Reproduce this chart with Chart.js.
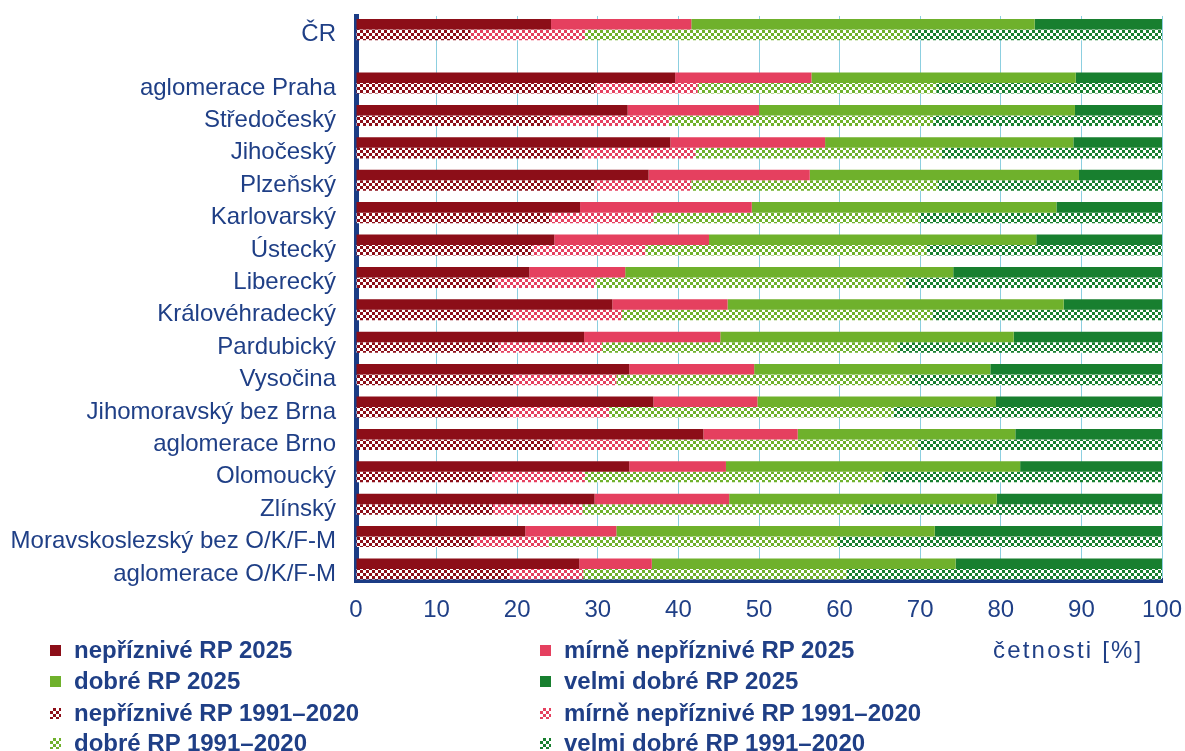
<!DOCTYPE html>
<html lang="cs">
<head>
<meta charset="utf-8">
<script src="https://cdn.jsdelivr.net/npm/chart.js@4/dist/chart.umd.min.js"></script>
<style>
  html, body { margin: 0; padding: 0; background: #fff; }
  #wrap { position: relative; width: 1185px; height: 751px; overflow: hidden; }
  #chart { position: absolute; left: 0; top: 0; }
  .lg { position: absolute; font: bold 24px "Liberation Sans", Arial, sans-serif; color: #1f3f86; white-space: nowrap; line-height: 26px; }
  .lg i { display: inline-block; width: 11px; height: 11px; margin-right: 13px; vertical-align: 2px; }
  #unit { position: absolute; left: 993px; top: 637px; font: 24px "Liberation Sans", Arial, sans-serif; letter-spacing: 2.2px; color: #1f3f86; line-height: 26px; }
</style>
</head>
<body>
<div id="wrap">
  <canvas id="chart" width="1185" height="751"></canvas>
  <div id="legend"></div>
  <div id="unit">četnosti [%]</div>
</div>
<script>
// Regions (ČR first, separated from the regional rows by a gap)
const regions = ['ČR', 'aglomerace Praha', 'Středočeský', 'Jihočeský', 'Plzeňský', 'Karlovarský',
  'Ústecký', 'Liberecký', 'Královéhradecký', 'Pardubický', 'Vysočina', 'Jihomoravský bez Brna',
  'aglomerace Brno', 'Olomoucký', 'Zlínský', 'Moravskoslezský bez O/K/F-M', 'aglomerace O/K/F-M'];

// Frequencies [%] of rozptylové podmínky (RP) in 2025
const nepriznive2025 = [24.2, 39.6, 33.7, 39.0, 36.3, 27.8, 24.6, 21.5, 31.8, 28.3, 33.9, 36.9, 43.1, 33.9, 29.6, 21.0, 27.7];
const mirneNepriznive2025 = [17.4, 16.9, 16.3, 19.2, 20.0, 21.3, 19.2, 11.9, 14.3, 16.9, 15.5, 12.9, 11.7, 12.0, 16.7, 11.3, 9.0];
const dobre2025 = [42.6, 32.8, 39.2, 30.8, 33.4, 37.8, 40.6, 40.7, 41.7, 36.4, 29.3, 29.6, 27.0, 36.5, 33.2, 39.5, 37.7];
const velmiDobre2025 = [15.8, 10.7, 10.8, 11.0, 10.3, 13.1, 15.6, 25.9, 12.2, 18.4, 21.3, 20.6, 18.2, 17.6, 20.5, 28.2, 25.6];

// Frequencies [%] for the reference period 1991–2020
const nepriznive9120 = [14.2, 29.7, 24.1, 28.1, 29.6, 24.1, 21.9, 17.3, 19.2, 17.7, 19.5, 19.0, 24.5, 16.9, 17.0, 14.6, 19.0];
const mirneNepriznive9120 = [14.2, 12.7, 14.7, 14.0, 12.0, 12.8, 14.0, 12.4, 13.8, 12.8, 12.8, 12.4, 11.9, 11.5, 11.1, 9.3, 9.2];
const dobre9120 = [40.3, 29.6, 32.8, 30.6, 30.6, 33.0, 34.9, 38.5, 38.5, 36.7, 36.4, 35.3, 33.3, 37.0, 34.6, 35.9, 32.7];
const velmiDobre9120 = [31.3, 28.0, 28.4, 27.3, 27.8, 30.1, 29.2, 31.8, 28.5, 32.8, 31.3, 33.3, 30.3, 34.6, 37.3, 40.2, 39.1];

const xTicks = [0, 10, 20, 30, 40, 50, 60, 70, 80, 90, 100];

// Row positions on the vertical axis: ČR, a gap, then one unit per region
const CR_GAP = 1.65;
const rowPos = regions.map((r, i) => (i === 0 ? 0 : CR_GAP + (i - 1)));

const C_DARKRED = '#8c0e18';
const C_PINK = '#e5405f';
const C_LIGHTGREEN = '#6fb12c';
const C_DARKGREEN = '#187f2f';
const NAVY = '#1b3c85';
const TEXT = '#1f3f86';
const GRID = '#8ccfe0';

function checker(color) {
  const c = document.createElement('canvas');
  c.width = 6; c.height = 6;
  const g = c.getContext('2d');
  g.fillStyle = '#ffffff';
  g.fillRect(0, 0, 6, 6);
  g.fillStyle = color;
  g.fillRect(0, 0, 3, 3);
  g.fillRect(3, 3, 3, 3);
  return g.createPattern(c, 'repeat');
}

const toPoints = arr => arr.map((v, i) => ({ x: v, y: rowPos[i] }));

const series = [
  { label: 'nepříznivé RP 2025', data: nepriznive2025, color: C_DARKRED, stack: 's2025', hatch: false },
  { label: 'mírně nepříznivé RP 2025', data: mirneNepriznive2025, color: C_PINK, stack: 's2025', hatch: false },
  { label: 'dobré RP 2025', data: dobre2025, color: C_LIGHTGREEN, stack: 's2025', hatch: false },
  { label: 'velmi dobré RP 2025', data: velmiDobre2025, color: C_DARKGREEN, stack: 's2025', hatch: false },
  { label: 'nepříznivé RP 1991–2020', data: nepriznive9120, color: C_DARKRED, stack: 's9120', hatch: true },
  { label: 'mírně nepříznivé RP 1991–2020', data: mirneNepriznive9120, color: C_PINK, stack: 's9120', hatch: true },
  { label: 'dobré RP 1991–2020', data: dobre9120, color: C_LIGHTGREEN, stack: 's9120', hatch: true },
  { label: 'velmi dobré RP 1991–2020', data: velmiDobre9120, color: C_DARKGREEN, stack: 's9120', hatch: true }
];

const datasets = series.map(s => ({
  label: s.label,
  data: toPoints(s.data),
  stack: s.stack,
  backgroundColor: s.hatch ? checker(s.color) : s.color,
  borderWidth: 0,
  categoryPercentage: 0.65,
  barPercentage: 1.0
}));

const FONT = { family: '"Liberation Sans", Arial, sans-serif', size: 24 };

new Chart(document.getElementById('chart'), {
  type: 'bar',
  data: { datasets },
  options: {
    indexAxis: 'y',
    responsive: false,
    animation: false,
    layout: { padding: { left: 0, right: 23, top: 16, bottom: 0 } },
    plugins: { legend: { display: false }, tooltip: { enabled: false } },
    scales: {
      x: {
        type: 'linear',
        stacked: true,
        min: 0,
        max: 100,
        afterBuildTicks: axis => { axis.ticks = xTicks.map(v => ({ value: v })); },
        afterFit: axis => {
          axis.height = 751 - 580;
          axis.paddingLeft = 0;
          axis.paddingRight = 0;
        },
        grid: { color: GRID, lineWidth: 1, drawTicks: false },
        border: { color: NAVY, width: 5 },
        ticks: { color: TEXT, font: FONT, padding: 16, maxRotation: 0 }
      },
      y: {
        type: 'linear',
        stacked: true,
        reverse: true,
        offset: false,
        min: -0.42,
        max: CR_GAP + regions.length - 2 + 0.34,
        afterBuildTicks: axis => { axis.ticks = rowPos.map(v => ({ value: v })); },
        afterFit: axis => {
          axis.width = 356;
          axis.paddingTop = 0;
          axis.paddingBottom = 0;
        },
        grid: { display: false, drawTicks: false },
        border: { color: NAVY, width: 5 },
        ticks: {
          color: TEXT,
          font: FONT,
          padding: 20,
          labelOffset: 5,
          autoSkip: false,
          callback: (value) => regions[rowPos.indexOf(value)]
        }
      }
    }
  }
});

// Legend in two columns
const legendPos = [
  [50, 637], [540, 637],
  [50, 668], [540, 668],
  [50, 700], [540, 700],
  [50, 730], [540, 730]
];
const legendEl = document.getElementById('legend');
series.forEach((s, k) => {
  const d = document.createElement('div');
  d.className = 'lg';
  d.style.left = legendPos[k][0] + 'px';
  d.style.top = legendPos[k][1] + 'px';
  const m = document.createElement('i');
  m.style.background = s.hatch
    ? `repeating-conic-gradient(${s.color} 0 25%, #fff 0 50%) 0 0 / 6px 6px`
    : s.color;
  d.appendChild(m);
  d.appendChild(document.createTextNode(s.label));
  legendEl.appendChild(d);
});
</script>
</body>
</html>
